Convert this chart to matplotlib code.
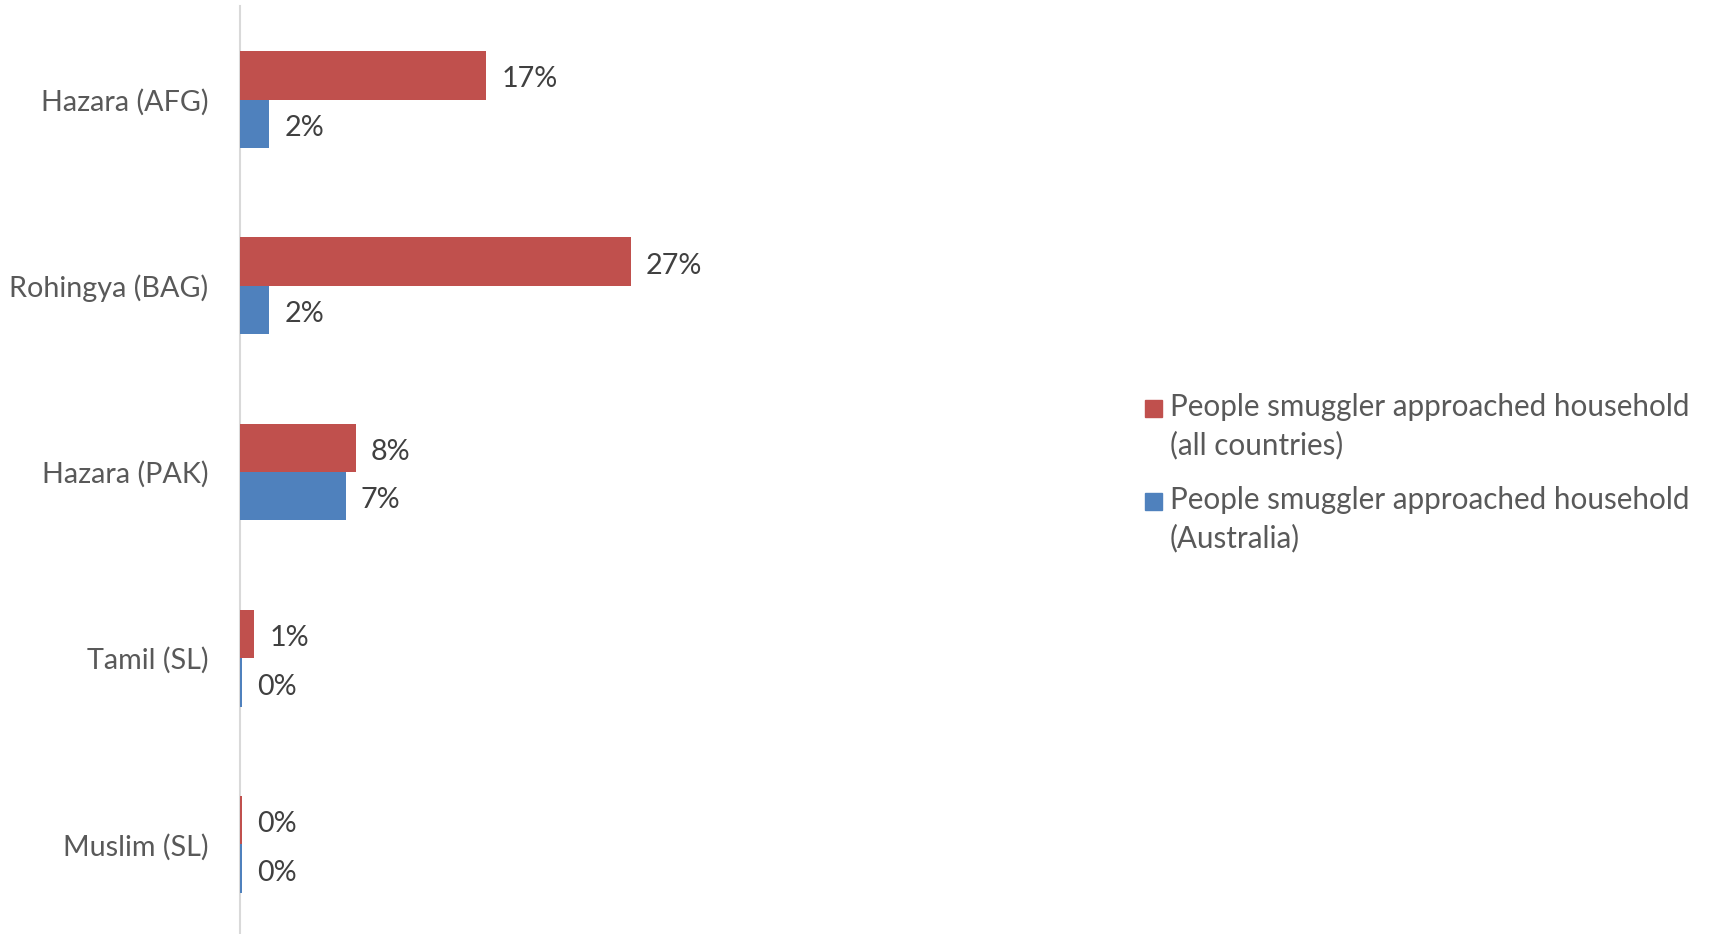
import matplotlib
matplotlib.use("Agg")
import matplotlib.pyplot as plt
from matplotlib.patches import Rectangle
import numpy as np

plt.rcParams["font.family"] = ["Lato", "DejaVu Sans"]

categories = ["Hazara (AFG)", "Rohingya (BAG)", "Hazara (PAK)", "Tamil (SL)", "Muslim (SL)"]
all_countries = [17, 27, 8, 1, 0.15]
australia = [2, 2, 7.3, 0.15, 0.15]
series_names = [
    "People smuggler approached household\n(all countries)",
    "People smuggler approached household\n(Australia)",
]
colors = ["#C0504D", "#4F81BD"]

W, H = 1711, 934
fig = plt.figure(figsize=(W / 100, H / 100), dpi=100)

# plot area in pixels
left_px, top_px, bottom_px = 240, 6.4, 937.6
px_per_unit = 14.47
xmax = 30
ax = fig.add_axes([left_px / W, 1 - bottom_px / H,
                   xmax * px_per_unit / W, (bottom_px - top_px) / H])

y = np.arange(len(categories))
h = 0.26
ax.barh(y - h / 2, all_countries, height=h, color=colors[0], zorder=2)
ax.barh(y + h / 2, australia, height=h, color=colors[1], zorder=2)

for vals, off in ((all_countries, -h / 2), (australia, h / 2)):
    for yi, v in zip(y, vals):
        ax.annotate(f"{v:.0f}%", xy=(v, yi + off), xytext=(11, -3),
                    textcoords="offset points", va="center", ha="left",
                    fontsize=20.7, color="#404040")

ax.set_xlim(0, xmax)
ax.set_ylim(len(categories) - 0.5, -0.5)
ax.set_yticks(y, labels=categories)
ax.tick_params(axis="y", length=0, pad=23, labelsize=20.7, labelcolor="#595959")
ax.set_xticks([])
for side in ("top", "right", "bottom"):
    ax.spines[side].set_visible(False)
ax.spines["left"].set_color("#D9D9D9")
ax.spines["left"].set_linewidth(1.5)
ax.spines["left"].set_zorder(1)

# legend drawn in figure pixels
def fx(px):
    return px / W

def fy(py):
    return 1 - py / H

legend_baselines = [416, 509]
line_gap = 38
for name, col, base in zip(series_names, colors, legend_baselines):
    fig.patches.append(Rectangle((fx(1145), fy(base + 1)), 16.5 / W, 17.5 / H,
                                 transform=fig.transFigure, color=col))
    for i, line in enumerate(name.split("\n")):
        fig.text(fx(1170), fy(base + i * line_gap), line, fontsize=21.3,
                 color="#595959", va="baseline", ha="left")

fig.savefig("out.png", dpi=100)
